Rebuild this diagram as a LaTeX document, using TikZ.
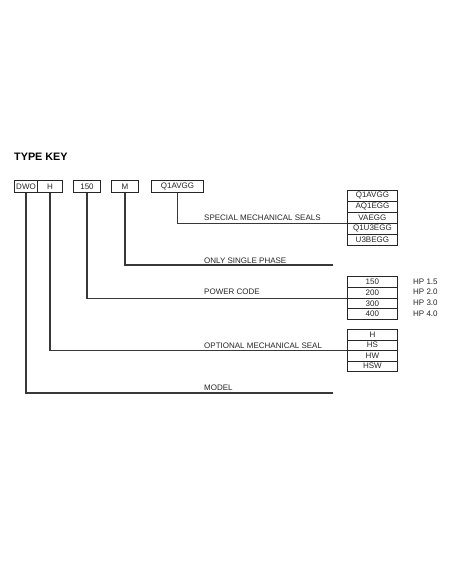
\documentclass[tikz,border=0pt]{standalone}
\usepackage{fontspec}
\setmainfont{Liberation Sans}
\begin{document}
\begin{tikzpicture}[x=1pt,y=-1pt,
  txt/.style={font=\fontsize{8}{9}\selectfont, text=black!85},
  box/.style={txt, draw=black!85, line width=1pt, minimum height=12pt, inner sep=0pt, anchor=north west},
  cell/.style={txt, draw=black!85, line width=0.8pt, minimum width=50pt, inner sep=0pt, anchor=north west},
  lbl/.style={txt, anchor=west, inner sep=0pt},
  conn/.style={draw=black!78, line width=1.1pt}]
\useasboundingbox (0,0) rectangle (452,584);

\node[font=\bfseries\fontsize{10.8}{12}\selectfont, anchor=west, inner sep=0pt] (title) at (14,157) {TYPE KEY};

% top code boxes
\node[box, minimum width=23pt] (dwo) at (14,180) {DWO};
\node[box, minimum width=25pt] (h) at (37,180) {H};
\node[box, minimum width=27pt] (p) at (73,180) {150};
\node[box, minimum width=27pt] (m) at (111,180) {M};
\node[box, minimum width=52pt] (q) at (151,180) {Q1AVGG};

% special mechanical seals table
\foreach \t [count=\i] in {Q1AVGG,AQ1EGG,VAEGG,Q1U3EGG,U3BEGG}
  \node[cell, minimum height=11pt] (s\i) at (347,{190+11*(\i-1)}) {\t};

% power code table
\foreach \t/\hp [count=\i] in {150/1.5,200/2.0,300/3.0,400/4.0}{
  \node[cell, minimum height=10.75pt] (pw\i) at (347,{276+10.75*(\i-1)}) {\t};
  \node[lbl] (hp\i) at (413,{276+10.75*(\i-0.5)}) {HP \hp};
}

% optional mechanical seal table
\foreach \t [count=\i] in {H,HS,HW,HSW}
  \node[cell, minimum height=10.5pt] (o\i) at (347,{329+10.5*(\i-1)}) {\t};

% labels
\node[lbl] (l1) at (204,218) {SPECIAL MECHANICAL SEALS};
\node[lbl] (l2) at (204,260.3) {ONLY SINGLE PHASE};
\node[lbl] (l3) at (204,292) {POWER CODE};
\node[lbl] (l4) at (204,345.5) {OPTIONAL MECHANICAL SEAL};
\node[lbl] (l5) at (204,388) {MODEL};

% free ends
\coordinate (mend) at (333,265);
\coordinate (dend) at (333,393);

% connectors
\draw[conn] (q.south) |- (s3.south west);
\draw[conn] (m.south) |- (mend);
\draw[conn] (p.south) |- (pw2.south west);
\draw[conn] (h.south) |- (o2.south west);
\draw[conn] (dwo.south) |- (dend);
\end{tikzpicture}
\end{document}
